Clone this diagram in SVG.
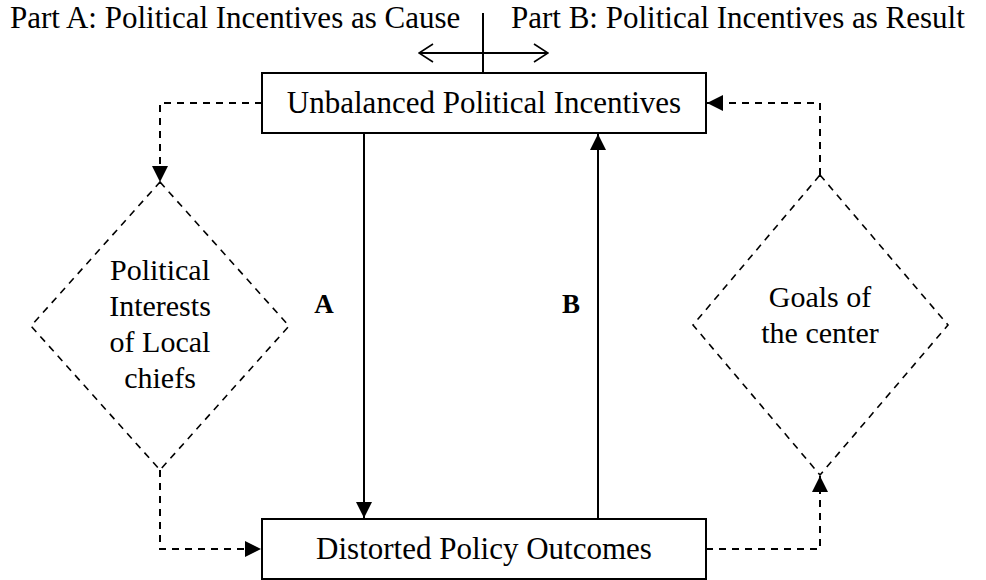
<svg xmlns="http://www.w3.org/2000/svg" width="986" height="580" viewBox="0 0 986 580">
<style>
text{font-family:"Liberation Serif","Times New Roman",serif;fill:#000}
.t{font-size:31px;text-anchor:middle}
.d{font-size:30px;text-anchor:middle}
.h{font-size:31px}
.lbl{font-size:27px;font-weight:bold;text-anchor:middle}
.box{fill:#fff;stroke:#000;stroke-width:2}
.dia{fill:none;stroke:#000;stroke-width:1.6;stroke-dasharray:7,6}
.solid{fill:none;stroke:#000;stroke-width:2}
.dash{fill:none;stroke:#000;stroke-width:2;stroke-dasharray:7,6}
</style>
<defs>
<marker id="ah" markerWidth="16" markerHeight="16" refX="16" refY="8" orient="auto" markerUnits="userSpaceOnUse">
<path d="M0,0 L16,8 L0,16 Z" fill="#000"/>
</marker>
<marker id="open" markerWidth="16" markerHeight="20" refX="15" refY="10" orient="auto-start-reverse" markerUnits="userSpaceOnUse">
<path d="M1,1 L15,10 L1,19" fill="none" stroke="#000" stroke-width="1.6"/>
</marker>
</defs>
<g id="header">
<text class="h" x="10" y="28">Part A: Political Incentives as Cause</text>
<text class="h" x="511" y="28">Part B: Political Incentives as Result</text>
</g>
<g id="connectors">
<line class="solid" x1="483" y1="13" x2="483" y2="73"/>
<line class="solid" x1="419" y1="53" x2="548" y2="53" marker-start="url(#open)" marker-end="url(#open)"/>
<line class="solid" x1="364" y1="133" x2="364" y2="518" marker-end="url(#ah)"/>
<line class="solid" x1="598" y1="519" x2="598" y2="134" marker-end="url(#ah)"/>
<polyline class="dash" points="262,103 160,103 160,182" marker-end="url(#ah)"/>
<polyline class="dash" points="160,470 160,549 261,549" marker-end="url(#ah)"/>
<polyline class="dash" points="706,549 820,549 820,476" marker-end="url(#ah)"/>
<polyline class="dash" points="820,175 820,103 707,103" marker-end="url(#ah)"/>
<text class="lbl" x="324" y="313">A</text>
<text class="lbl" x="571" y="313">B</text>
</g>
<g id="unbalanced">
<rect class="box" x="262" y="73" width="444" height="60"/>
<text class="t" x="484" y="113">Unbalanced Political Incentives</text>
</g>
<g id="distorted">
<rect class="box" x="262" y="519" width="444" height="60"/>
<text class="t" x="484" y="559">Distorted Policy Outcomes</text>
</g>
<g id="local">
<polygon class="dia" points="160,182 289,326 160,470 31,326"/>
<text class="d" x="160" y="280">Political</text>
<text class="d" x="160" y="316">Interests</text>
<text class="d" x="160" y="352">of Local</text>
<text class="d" x="160" y="388">chiefs</text>
</g>
<g id="center">
<polygon class="dia" points="820,175 948,325 820,475 693,325"/>
<text class="d" x="820" y="307">Goals of</text>
<text class="d" x="820" y="343">the center</text>
</g>
</svg>
